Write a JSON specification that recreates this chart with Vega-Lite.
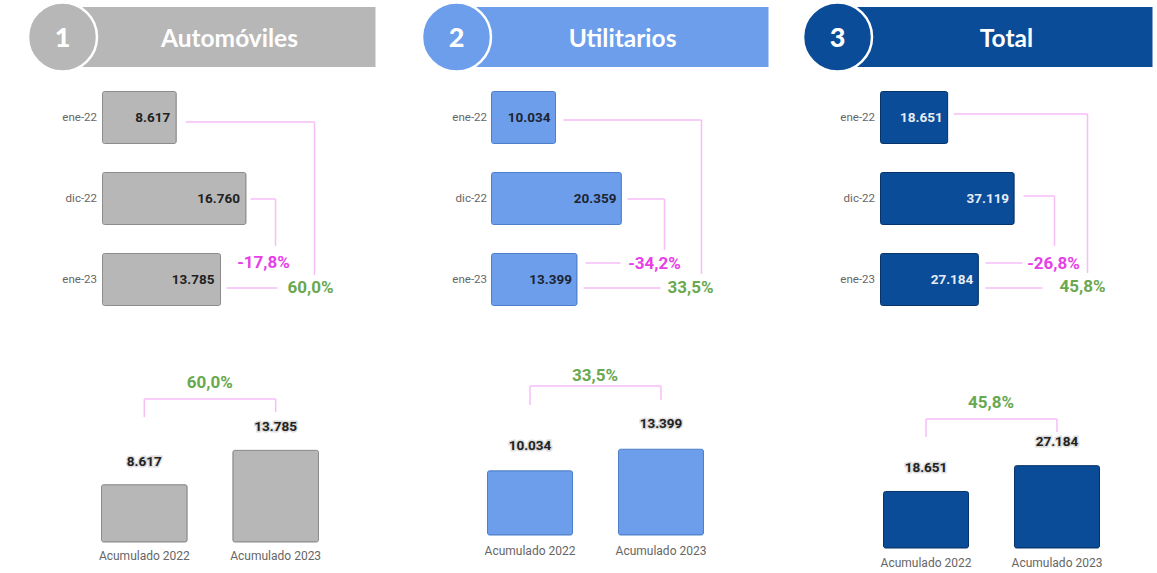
{
  "$schema": "https://vega.github.io/schema/vega-lite/v6.json",
  "background": "white",
  "padding": {"left": 22.5, "top": -3, "right": 4, "bottom": 0},
  "autosize": {"type": "pad"},
  "config": {
    "view": {"stroke": null},
    "font": "Roboto",
    "locale": {"number": {"decimal": ",", "thousands": ".", "grouping": [3], "currency": ["", " €"], "minus": "-"}}
  },
  "bounds": "flush",
  "spacing": {"row": 10, "column": 88},
  "columns": 3,
  "concat": [
        {
          "width": 273, "height": 60,
          "data": {"values": [{"num": "1", "name": "Automóviles"}]},
          "layer": [
            {"mark": {"type": "rect", "color": "#b7b7b7"},
             "encoding": {"x": {"datum": -0.1465, "type": "quantitative", "scale": {"domain": [0, 1], "nice": false}, "axis": null},
                          "x2": {"datum": 1},
                          "y": {"datum": 0, "type": "quantitative", "scale": {"domain": [0, 1], "nice": false}, "axis": null},
                          "y2": {"datum": 1}}},
            {"mark": {"type": "point", "shape": "circle", "filled": true, "size": 4761, "color": "#b7b7b7", "stroke": "white", "strokeWidth": 2.5, "opacity": 1},
             "encoding": {"x": {"datum": -0.1465, "type": "quantitative", "axis": null}, "y": {"datum": 0.5, "type": "quantitative", "axis": null}}},
            {"mark": {"type": "text", "font": "Lato", "fontWeight": 900, "fontSize": 27, "color": "white", "baseline": "middle", "align": "center", "dy": 2},
             "encoding": {"x": {"datum": -0.1465, "type": "quantitative", "axis": null}, "y": {"datum": 0.5, "type": "quantitative", "axis": null}, "text": {"field": "num"}}},
            {"mark": {"type": "text", "font": "Lato", "fontWeight": "bold", "fontSize": 24.5, "color": "white", "baseline": "middle", "align": "center", "dy": 2.5},
             "encoding": {"x": {"datum": 0.465, "type": "quantitative", "axis": null}, "y": {"datum": 0.5, "type": "quantitative", "axis": null}, "text": {"field": "name"}}}
          ]
        },
        {
          "width": 277, "height": 60,
          "data": {"values": [{"num": "2", "name": "Utilitarios"}]},
          "layer": [
            {"mark": {"type": "rect", "color": "#6d9eeb"},
             "encoding": {"x": {"datum": -0.1264, "type": "quantitative", "scale": {"domain": [0, 1], "nice": false}, "axis": null},
                          "x2": {"datum": 1},
                          "y": {"datum": 0, "type": "quantitative", "scale": {"domain": [0, 1], "nice": false}, "axis": null},
                          "y2": {"datum": 1}}},
            {"mark": {"type": "point", "shape": "circle", "filled": true, "size": 4761, "color": "#6d9eeb", "stroke": "white", "strokeWidth": 2.5, "opacity": 1},
             "encoding": {"x": {"datum": -0.1264, "type": "quantitative", "axis": null}, "y": {"datum": 0.5, "type": "quantitative", "axis": null}}},
            {"mark": {"type": "text", "font": "Lato", "fontWeight": 900, "fontSize": 27, "color": "white", "baseline": "middle", "align": "center", "dy": 2},
             "encoding": {"x": {"datum": -0.1264, "type": "quantitative", "axis": null}, "y": {"datum": 0.5, "type": "quantitative", "axis": null}, "text": {"field": "num"}}},
            {"mark": {"type": "text", "font": "Lato", "fontWeight": "bold", "fontSize": 24.5, "color": "white", "baseline": "middle", "align": "center", "dy": 2.5},
             "encoding": {"x": {"datum": 0.473, "type": "quantitative", "axis": null}, "y": {"datum": 0.5, "type": "quantitative", "axis": null}, "text": {"field": "name"}}}
          ]
        },
        {
          "width": 272, "height": 60,
          "data": {"values": [{"num": "3", "name": "Total"}]},
          "layer": [
            {"mark": {"type": "rect", "color": "#0a4c98"},
             "encoding": {"x": {"datum": -0.158, "type": "quantitative", "scale": {"domain": [0, 1], "nice": false}, "axis": null},
                          "x2": {"datum": 1},
                          "y": {"datum": 0, "type": "quantitative", "scale": {"domain": [0, 1], "nice": false}, "axis": null},
                          "y2": {"datum": 1}}},
            {"mark": {"type": "point", "shape": "circle", "filled": true, "size": 4761, "color": "#0a4c98", "stroke": "white", "strokeWidth": 2.5, "opacity": 1},
             "encoding": {"x": {"datum": -0.158, "type": "quantitative", "axis": null}, "y": {"datum": 0.5, "type": "quantitative", "axis": null}}},
            {"mark": {"type": "text", "font": "Lato", "fontWeight": 900, "fontSize": 27, "color": "white", "baseline": "middle", "align": "center", "dy": 2},
             "encoding": {"x": {"datum": -0.158, "type": "quantitative", "axis": null}, "y": {"datum": 0.5, "type": "quantitative", "axis": null}, "text": {"field": "num"}}},
            {"mark": {"type": "text", "font": "Lato", "fontWeight": "bold", "fontSize": 24.5, "color": "white", "baseline": "middle", "align": "center", "dy": 2.5},
             "encoding": {"x": {"datum": 0.463, "type": "quantitative", "axis": null}, "y": {"datum": 0.5, "type": "quantitative", "axis": null}, "text": {"field": "name"}}}
          ]
        },
        {
          "width": 301, "height": 243,
          "layer": [
            {
              "data": {"values": [{"mes": "ene-22", "idx": 0, "value": 8617}, {"mes": "dic-22", "idx": 1, "value": 16760}, {"mes": "ene-23", "idx": 2, "value": 13785}]},
              "layer": [
                {"mark": {"type": "bar", "orient": "horizontal", "height": 52, "color": "#b7b7b7", "stroke": "#8c8c8c", "strokeWidth": 1, "cornerRadius": 2},
                 "encoding": {
                   "y": {"field": "idx", "type": "quantitative", "scale": {"domain": [-0.5, 2.5], "reverse": true, "nice": false, "zero": false, "padding": 0},
                         "axis": {"values": [0, 1, 2], "labelExpr": "datum.value == 0 ? 'ene-22' : datum.value == 1 ? 'dic-22' : 'ene-23'", "title": null, "grid": false, "domain": false, "ticks": false, "labelPadding": 6, "labelFontSize": 11.5, "labelColor": "#666", "labelFont": "Roboto"}},
                   "x": {"field": "value", "type": "quantitative", "scale": {"domain": [0, 35160], "nice": false, "padding": 0}, "axis": null}}},
                {"mark": {"type": "text", "align": "right", "baseline": "middle", "dx": -6, "fontWeight": "bold", "fontSize": 13.5, "color": "#222"},
                 "encoding": {"y": {"field": "idx", "type": "quantitative", "title": null}, "x": {"field": "value", "type": "quantitative", "axis": null}, "text": {"field": "value", "type": "quantitative", "format": ",.0f"}}}
              ]
            },
            {
              "data": {"values": [
                {"x": 9696, "x2": 24766, "y": 0.056, "y2": 0.056},
                {"x": 24766, "x2": 24766, "y": 0.056, "y2": 1.944},
                {"x": 17290, "x2": 20210, "y": 1.006, "y2": 1.006},
                {"x": 20210, "x2": 20210, "y": 1.006, "y2": 1.586},
                {"x": 14486, "x2": 20444, "y": 2.105, "y2": 2.105}
              ]},
              "mark": {"type": "rule", "color": "#f7bdf7", "strokeWidth": 1.5},
              "encoding": {"x": {"field": "x", "type": "quantitative", "axis": null}, "x2": {"field": "x2"}, "y": {"field": "y", "type": "quantitative", "title": null}, "y2": {"field": "y2"}}
            },
            {
              "data": {"values": [{"pct": 0.6, "ref": "vs ene-22", "x": 24299, "y": 2.105}, {"pct": -0.178, "ref": "vs dic-22", "x": 18808, "y": 1.796}]},
              "mark": {"type": "text", "fontSize": 17, "fontWeight": "bold", "baseline": "middle", "align": "center"},
              "encoding": {"x": {"field": "x", "type": "quantitative", "axis": null}, "y": {"field": "y", "type": "quantitative", "title": null},
                           "text": {"field": "pct", "type": "quantitative", "format": ".1%"},
                           "color": {"field": "ref", "type": "nominal", "scale": {"domain": ["vs ene-22", "vs dic-22"], "range": ["#6aa84f", "#e83ee8"]}, "legend": null}}
            },
            {
              "mark": {"type": "rule", "color": "#c4c4c4", "strokeWidth": 1.5, "strokeDash": [1.5, 4.5]},
              "encoding": {"x": {"datum": 35160, "type": "quantitative", "axis": null}, "y": {"datum": -0.58, "type": "quantitative", "title": null}, "y2": {"datum": 5.7}}
            }
          ]
        },
        {
          "width": 301, "height": 243,
          "layer": [
            {
              "data": {"values": [{"mes": "ene-22", "idx": 0, "value": 10034}, {"mes": "dic-22", "idx": 1, "value": 20359}, {"mes": "ene-23", "idx": 2, "value": 13399}]},
              "layer": [
                {"mark": {"type": "bar", "orient": "horizontal", "height": 52, "color": "#6d9eeb", "stroke": "#4f7fc9", "strokeWidth": 1, "cornerRadius": 2},
                 "encoding": {
                   "y": {"field": "idx", "type": "quantitative", "scale": {"domain": [-0.5, 2.5], "reverse": true, "nice": false, "zero": false, "padding": 0},
                         "axis": {"values": [0, 1, 2], "labelExpr": "datum.value == 0 ? 'ene-22' : datum.value == 1 ? 'dic-22' : 'ene-23'", "title": null, "grid": false, "domain": false, "ticks": false, "labelPadding": 5, "labelFontSize": 11.5, "labelColor": "#666", "labelFont": "Roboto"}},
                   "x": {"field": "value", "type": "quantitative", "scale": {"domain": [0, 47180], "nice": false, "padding": 0}, "axis": null}}},
                {"mark": {"type": "text", "align": "right", "baseline": "middle", "dx": -5, "fontWeight": "bold", "fontSize": 13.5, "color": "#1c2433"},
                 "encoding": {"y": {"field": "idx", "type": "quantitative", "title": null}, "x": {"field": "value", "type": "quantitative", "axis": null}, "text": {"field": "value", "type": "quantitative", "format": ",.0f"}}}
              ]
            },
            {
              "data": {"values": [
                {"x": 11285, "x2": 32915, "y": 0.031, "y2": 0.031},
                {"x": 32915, "x2": 32915, "y": 0.031, "y2": 1.932},
                {"x": 21317, "x2": 27116, "y": 1.006, "y2": 1.006},
                {"x": 27116, "x2": 27116, "y": 1.006, "y2": 1.636},
                {"x": 14734, "x2": 20219, "y": 1.796, "y2": 1.796},
                {"x": 14420, "x2": 26489, "y": 2.105, "y2": 2.105}
              ]},
              "mark": {"type": "rule", "color": "#f7bdf7", "strokeWidth": 1.5},
              "encoding": {"x": {"field": "x", "type": "quantitative", "axis": null}, "x2": {"field": "x2"}, "y": {"field": "y", "type": "quantitative", "title": null}, "y2": {"field": "y2"}}
            },
            {
              "data": {"values": [{"pct": 0.335, "ref": "vs ene-22", "x": 31191, "y": 2.105}, {"pct": -0.342, "ref": "vs dic-22", "x": 25549, "y": 1.809}]},
              "mark": {"type": "text", "fontSize": 17, "fontWeight": "bold", "baseline": "middle", "align": "center"},
              "encoding": {"x": {"field": "x", "type": "quantitative", "axis": null}, "y": {"field": "y", "type": "quantitative", "title": null},
                           "text": {"field": "pct", "type": "quantitative", "format": ".1%"},
                           "color": {"field": "ref", "type": "nominal", "scale": {"domain": ["vs ene-22", "vs dic-22"], "range": ["#6aa84f", "#e83ee8"]}, "legend": null}}
            },
            {
              "mark": {"type": "rule", "color": "#c4c4c4", "strokeWidth": 1.5, "strokeDash": [1.5, 4.5]},
              "encoding": {"x": {"datum": 47180, "type": "quantitative", "axis": null}, "y": {"datum": -0.58, "type": "quantitative", "title": null}, "y2": {"datum": 5.7}}
            }
          ]
        },
        {
          "width": 301, "height": 243,
          "layer": [
            {
              "data": {"values": [{"mes": "ene-22", "idx": 0, "value": 18651}, {"mes": "dic-22", "idx": 1, "value": 37119}, {"mes": "ene-23", "idx": 2, "value": 27184}]},
              "layer": [
                {"mark": {"type": "bar", "orient": "horizontal", "height": 52, "color": "#0a4c98", "stroke": "#06346b", "strokeWidth": 1, "cornerRadius": 2},
                 "encoding": {
                   "y": {"field": "idx", "type": "quantitative", "scale": {"domain": [-0.5, 2.5], "reverse": true, "nice": false, "zero": false, "padding": 0},
                         "axis": {"values": [0, 1, 2], "labelExpr": "datum.value == 0 ? 'ene-22' : datum.value == 1 ? 'dic-22' : 'ene-23'", "title": null, "grid": false, "domain": false, "ticks": false, "labelPadding": 6, "labelFontSize": 11.5, "labelColor": "#666", "labelFont": "Roboto"}},
                   "x": {"field": "value", "type": "quantitative", "scale": {"domain": [0, 83610], "nice": false, "padding": 0}, "axis": null}}},
                {"mark": {"type": "text", "align": "right", "baseline": "middle", "dx": -5, "fontWeight": "bold", "fontSize": 13.5, "color": "#e6ecf5"},
                 "encoding": {"y": {"field": "idx", "type": "quantitative", "title": null}, "x": {"field": "value", "type": "quantitative", "axis": null}, "text": {"field": "value", "type": "quantitative", "format": ",.0f"}}}
              ]
            },
            {
              "data": {"values": [
                {"x": 20278, "x2": 57500, "y": -0.043, "y2": -0.043},
                {"x": 57500, "x2": 57500, "y": -0.043, "y2": 1.92},
                {"x": 39722, "x2": 48333, "y": 0.969, "y2": 0.969},
                {"x": 48333, "x2": 48333, "y": 0.969, "y2": 1.586},
                {"x": 29167, "x2": 39444, "y": 1.796, "y2": 1.796},
                {"x": 29167, "x2": 45000, "y": 2.105, "y2": 2.105}
              ]},
              "mark": {"type": "rule", "color": "#f7bdf7", "strokeWidth": 1.5},
              "encoding": {"x": {"field": "x", "type": "quantitative", "axis": null}, "x2": {"field": "x2"}, "y": {"field": "y", "type": "quantitative", "title": null}, "y2": {"field": "y2"}}
            },
            {
              "data": {"values": [{"pct": 0.458, "ref": "vs ene-22", "x": 56111, "y": 2.093}, {"pct": -0.268, "ref": "vs dic-22", "x": 48056, "y": 1.809}]},
              "mark": {"type": "text", "fontSize": 17, "fontWeight": "bold", "baseline": "middle", "align": "center"},
              "encoding": {"x": {"field": "x", "type": "quantitative", "axis": null}, "y": {"field": "y", "type": "quantitative", "title": null},
                           "text": {"field": "pct", "type": "quantitative", "format": ".1%"},
                           "color": {"field": "ref", "type": "nominal", "scale": {"domain": ["vs ene-22", "vs dic-22"], "range": ["#6aa84f", "#e83ee8"]}, "legend": null}}
            }
          ]
        },
        {
          "width": 230, "height": 212,
          "layer": [
            {
              "data": {"values": [{"cat": "Acumulado 2022", "value": 8617}, {"cat": "Acumulado 2023", "value": 13785}]},
              "layer": [
                {"mark": {"type": "bar", "color": "#b7b7b7", "stroke": "#8c8c8c", "strokeWidth": 1, "cornerRadius": 2},
                 "encoding": {
                   "x": {"field": "cat", "type": "nominal", "scale": {"range": [-1, 216], "paddingInner": 0.348, "paddingOuter": 0},
                         "axis": {"title": null, "domain": false, "ticks": false, "labelAngle": 0, "labelPadding": 8, "labelFontSize": 12, "labelColor": "#666", "labelFont": "Roboto"}},
                   "y": {"field": "value", "type": "quantitative", "scale": {"domain": [0, 31880], "nice": false}, "axis": null}}},
                {"mark": {"type": "text", "baseline": "middle", "dy": -23, "fontWeight": "bold", "fontSize": 13.5, "color": "#d6d6d6", "stroke": "#d6d6d6", "strokeWidth": 3, "strokeOpacity": 0.8},
                 "encoding": {"x": {"field": "cat", "type": "nominal", "title": null}, "y": {"field": "value", "type": "quantitative", "axis": null}, "text": {"field": "value", "type": "quantitative", "format": ",.0f"}}},
                {"mark": {"type": "text", "baseline": "middle", "dy": -23, "fontWeight": "bold", "fontSize": 13.5, "color": "#222"},
                 "encoding": {"x": {"field": "cat", "type": "nominal", "title": null}, "y": {"field": "value", "type": "quantitative", "axis": null}, "text": {"field": "value", "type": "quantitative", "format": ",.0f"}}}
              ]
            },
            {
              "data": {"values": [
                {"a": "Acumulado 2022", "b": "Acumulado 2023", "y": 21504, "y2": 21504},
                {"a": "Acumulado 2022", "b": "Acumulado 2022", "y": 21504, "y2": 18797},
                {"a": "Acumulado 2023", "b": "Acumulado 2023", "y": 21504, "y2": 19549}
              ]},
              "mark": {"type": "rule", "color": "#f7bdf7", "strokeWidth": 1.5},
              "encoding": {"x": {"field": "a", "type": "nominal", "title": null}, "x2": {"field": "b"}, "y": {"field": "y", "type": "quantitative", "axis": null}, "y2": {"field": "y2"}}
            },
            {
              "data": {"values": [{"pct": 0.6, "y": 23910}]},
              "mark": {"type": "text", "fontSize": 17, "fontWeight": "bold", "baseline": "middle", "align": "center", "color": "#6aa84f"},
              "encoding": {"x": {"datum": "Acumulado 2022", "type": "nominal", "bandPosition": 1.265, "title": null}, "y": {"field": "y", "type": "quantitative", "axis": null},
                           "text": {"field": "pct", "type": "quantitative", "format": ".1%"}}
            }
          ]
        },
        {
          "width": 230, "height": 205,
          "layer": [
            {
              "data": {"values": [{"cat": "Acumulado 2022", "value": 10034}, {"cat": "Acumulado 2023", "value": 13399}]},
              "layer": [
                {"mark": {"type": "bar", "color": "#6d9eeb", "stroke": "#4f7fc9", "strokeWidth": 1, "cornerRadius": 2},
                 "encoding": {
                   "x": {"field": "cat", "type": "nominal", "scale": {"range": [-4, 212], "paddingInner": 0.351, "paddingOuter": 0},
                         "axis": {"title": null, "domain": false, "ticks": false, "labelAngle": 0, "labelPadding": 10, "labelFontSize": 12, "labelColor": "#666", "labelFont": "Roboto"}},
                   "y": {"field": "value", "type": "quantitative", "scale": {"domain": [0, 32030], "nice": false}, "axis": null}}},
                {"mark": {"type": "text", "baseline": "middle", "dy": -25, "fontWeight": "bold", "fontSize": 13.5, "color": "#d6d6d6", "stroke": "#d6d6d6", "strokeWidth": 3, "strokeOpacity": 0.8},
                 "encoding": {"x": {"field": "cat", "type": "nominal", "title": null}, "y": {"field": "value", "type": "quantitative", "axis": null}, "text": {"field": "value", "type": "quantitative", "format": ",.0f"}}},
                {"mark": {"type": "text", "baseline": "middle", "dy": -25, "fontWeight": "bold", "fontSize": 13.5, "color": "#222"},
                 "encoding": {"x": {"field": "cat", "type": "nominal", "title": null}, "y": {"field": "value", "type": "quantitative", "axis": null}, "text": {"field": "value", "type": "quantitative", "format": ",.0f"}}}
              ]
            },
            {
              "data": {"values": [
                {"a": "Acumulado 2022", "b": "Acumulado 2023", "y": 23281, "y2": 23281},
                {"a": "Acumulado 2022", "b": "Acumulado 2022", "y": 23281, "y2": 20313},
                {"a": "Acumulado 2023", "b": "Acumulado 2023", "y": 23281, "y2": 21094}
              ]},
              "mark": {"type": "rule", "color": "#f7bdf7", "strokeWidth": 1.5},
              "encoding": {"x": {"field": "a", "type": "nominal", "title": null}, "x2": {"field": "b"}, "y": {"field": "y", "type": "quantitative", "axis": null}, "y2": {"field": "y2"}}
            },
            {
              "data": {"values": [{"pct": 0.335, "y": 24844}]},
              "mark": {"type": "text", "fontSize": 17, "fontWeight": "bold", "baseline": "middle", "align": "center", "color": "#6aa84f"},
              "encoding": {"x": {"datum": "Acumulado 2022", "type": "nominal", "bandPosition": 1.265, "title": null}, "y": {"field": "y", "type": "quantitative", "axis": null},
                           "text": {"field": "pct", "type": "quantitative", "format": ".1%"}}
            }
          ]
        },
        {
          "width": 230, "height": 218,
          "layer": [
            {
              "data": {"values": [{"cat": "Acumulado 2022", "value": 18651}, {"cat": "Acumulado 2023", "value": 27184}]},
              "layer": [
                {"mark": {"type": "bar", "color": "#0a4c98", "stroke": "#06346b", "strokeWidth": 1, "cornerRadius": 2},
                 "encoding": {
                   "x": {"field": "cat", "type": "nominal", "scale": {"range": [3, 219], "paddingInner": 0.351, "paddingOuter": 0},
                         "axis": {"title": null, "domain": false, "ticks": false, "labelAngle": 0, "labelPadding": 9, "labelFontSize": 12, "labelColor": "#666", "labelFont": "Roboto"}},
                   "y": {"field": "value", "type": "quantitative", "scale": {"domain": [0, 71950], "nice": false}, "axis": null}}},
                {"mark": {"type": "text", "baseline": "middle", "dy": -23.5, "fontWeight": "bold", "fontSize": 13.5, "color": "#d6d6d6", "stroke": "#d6d6d6", "strokeWidth": 3, "strokeOpacity": 0.8},
                 "encoding": {"x": {"field": "cat", "type": "nominal", "title": null}, "y": {"field": "value", "type": "quantitative", "axis": null}, "text": {"field": "value", "type": "quantitative", "format": ",.0f"}}},
                {"mark": {"type": "text", "baseline": "middle", "dy": -23.5, "fontWeight": "bold", "fontSize": 13.5, "color": "#222"},
                 "encoding": {"x": {"field": "cat", "type": "nominal", "title": null}, "y": {"field": "value", "type": "quantitative", "axis": null}, "text": {"field": "value", "type": "quantitative", "format": ",.0f"}}}
              ]
            },
            {
              "data": {"values": [
                {"a": "Acumulado 2022", "b": "Acumulado 2023", "y": 42574, "y2": 42574},
                {"a": "Acumulado 2022", "b": "Acumulado 2022", "y": 42574, "y2": 36634},
                {"a": "Acumulado 2023", "b": "Acumulado 2023", "y": 42574, "y2": 38284}
              ]},
              "mark": {"type": "rule", "color": "#f7bdf7", "strokeWidth": 1.5},
              "encoding": {"x": {"field": "a", "type": "nominal", "title": null}, "x2": {"field": "b"}, "y": {"field": "y", "type": "quantitative", "axis": null}, "y2": {"field": "y2"}}
            },
            {
              "data": {"values": [{"pct": 0.458, "y": 47855}]},
              "mark": {"type": "text", "fontSize": 17, "fontWeight": "bold", "baseline": "middle", "align": "center", "color": "#6aa84f"},
              "encoding": {"x": {"datum": "Acumulado 2022", "type": "nominal", "bandPosition": 1.265, "title": null}, "y": {"field": "y", "type": "quantitative", "axis": null},
                           "text": {"field": "pct", "type": "quantitative", "format": ".1%"}}
            }
          ]
        }
  ]
}
